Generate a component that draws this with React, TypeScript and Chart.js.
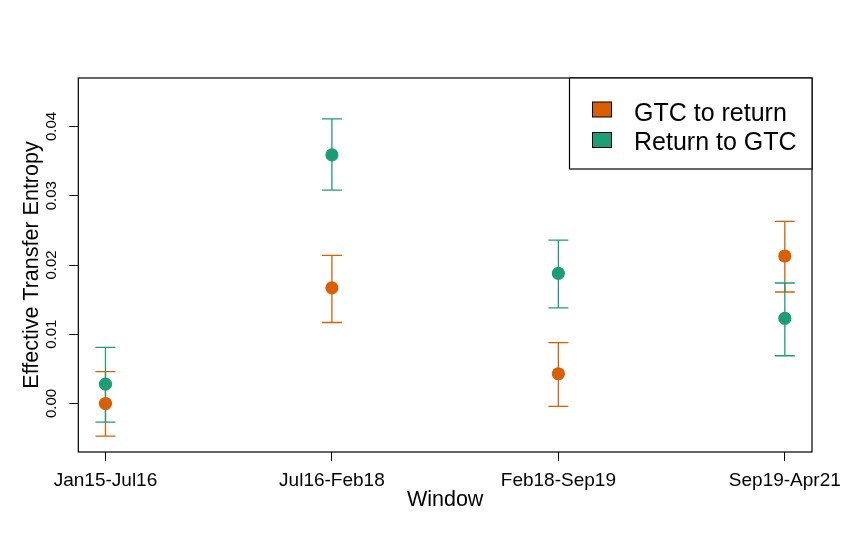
import { useEffect, useRef } from 'react';
import { Chart, registerables } from 'chart.js';
import type { ChartConfiguration, Plugin } from 'chart.js';

Chart.register(...registerables);

const windows = ['Jan15-Jul16', 'Jul16-Feb18', 'Feb18-Sep19', 'Sep19-Apr21'];

const gtcToReturn = [0.0, 0.0167, 0.0043, 0.0213];
const gtcToReturnLow = [-0.0047, 0.0117, -0.0004, 0.0161];
const gtcToReturnHigh = [0.0046, 0.0214, 0.0088, 0.0263];

const returnToGtc = [0.0028, 0.0359, 0.0188, 0.0123];
const returnToGtcLow = [-0.0027, 0.0308, 0.0138, 0.0069];
const returnToGtcHigh = [0.0081, 0.0411, 0.0236, 0.0174];

const yTicks = [0, 0.01, 0.02, 0.03, 0.04];
const yTickLabels = ['0.00', '0.01', '0.02', '0.03', '0.04'];

const ORANGE = '#D95F02';
const GREEN = '#1B9E77';
const FONT = '"Liberation Sans", Arial, sans-serif';

const errorBars = [
  { color: ORANGE, low: gtcToReturnLow, high: gtcToReturnHigh },
  { color: GREEN, low: returnToGtcLow, high: returnToGtcHigh },
];

const rPlot: Plugin<'scatter'> = {
  id: 'rPlot',
  beforeDatasetsDraw(chart) {
    const { ctx, scales } = chart;
    const x = scales.x;
    const y = scales.y;
    ctx.save();
    ctx.lineWidth = 1.3;
    errorBars.forEach((eb) => {
      ctx.strokeStyle = eb.color;
      windows.forEach((_, i) => {
        const px = x.getPixelForValue(i);
        const top = y.getPixelForValue(eb.high[i]);
        const bot = y.getPixelForValue(eb.low[i]);
        ctx.beginPath();
        ctx.moveTo(px, top);
        ctx.lineTo(px, bot);
        ctx.moveTo(px - 10, top);
        ctx.lineTo(px + 10, top);
        ctx.moveTo(px - 10, bot);
        ctx.lineTo(px + 10, bot);
        ctx.stroke();
      });
    });
    ctx.restore();
  },
  afterDraw(chart) {
    const { ctx, chartArea, scales } = chart;
    const y = scales.y;
    ctx.save();
    // plot box
    ctx.strokeStyle = '#000';
    ctx.lineWidth = 1.2;
    ctx.strokeRect(chartArea.left, chartArea.top, chartArea.right - chartArea.left, chartArea.bottom - chartArea.top);

    // y tick labels, rotated like R's default
    ctx.fillStyle = '#000';
    ctx.font = `15px ${FONT}`;
    ctx.textAlign = 'center';
    ctx.textBaseline = 'alphabetic';
    yTicks.forEach((v, i) => {
      const py = y.getPixelForValue(v);
      ctx.save();
      ctx.translate(56, py);
      ctx.rotate(-Math.PI / 2);
      ctx.fillText(yTickLabels[i], 0, 0);
      ctx.restore();
    });

    // axis titles
    ctx.font = `21.5px ${FONT}`;
    ctx.save();
    ctx.translate(37.5, (chartArea.top + chartArea.bottom) / 2);
    ctx.rotate(-Math.PI / 2);
    ctx.fillText('Effective Transfer Entropy', 0, 0);
    ctx.restore();
    ctx.fillText('Window', (chartArea.left + chartArea.right) / 2, 505.5);

    // legend
    const lx = 569.5;
    ctx.fillStyle = '#fff';
    ctx.fillRect(lx, chartArea.top, chartArea.right - lx, 91);
    ctx.strokeRect(lx, chartArea.top, chartArea.right - lx, 91);
    ctx.font = `25px ${FONT}`;
    ctx.textAlign = 'left';
    chart.data.datasets.forEach((ds, i) => {
      const sy = 102 + i * 30.5;
      ctx.fillStyle = ds.backgroundColor as string;
      ctx.fillRect(592.5, sy, 19, 15);
      ctx.lineWidth = 1;
      ctx.strokeRect(592.5, sy, 19, 15);
      ctx.fillStyle = '#000';
      ctx.fillText(ds.label as string, 634, sy + 18.5 - i * 1.5);
    });
    ctx.restore();
  },
};

function EntropyChart() {
  const chartRef = useRef<HTMLCanvasElement>(null);
  const chartInstance = useRef<Chart<'scatter'> | null>(null);

  useEffect(() => {
    if (!chartRef.current) return;
    const ctx = chartRef.current.getContext('2d');
    if (!ctx) return;

    const config: ChartConfiguration<'scatter'> = {
      type: 'scatter',
      data: {
        datasets: [
          {
            label: 'GTC to return',
            data: gtcToReturn.map((v, i) => ({ x: i, y: v })),
            backgroundColor: ORANGE,
            borderColor: ORANGE,
            pointRadius: 6,
            borderWidth: 1.2,
          },
          {
            label: 'Return to GTC',
            data: returnToGtc.map((v, i) => ({ x: i, y: v })),
            backgroundColor: GREEN,
            borderColor: GREEN,
            pointRadius: 6,
            borderWidth: 1.2,
          },
        ],
      },
      options: {
        animation: false,
        responsive: true,
        maintainAspectRatio: false,
        layout: { padding: { top: 78, right: 41, left: 0, bottom: 0 } },
        plugins: { legend: { display: false }, tooltip: { enabled: false } },
        scales: {
          x: {
            type: 'linear',
            min: -0.12,
            max: 3.12,
            afterBuildTicks: (scale) => {
              scale.ticks = windows.map((_, i) => ({ value: i }));
            },
            afterFit: (scale) => {
              scale.height = 98;
            },
            ticks: {
              color: '#000',
              padding: 8,
              font: { family: FONT, size: 19 },
              maxRotation: 0,
              autoSkip: false,
              callback: (v) => windows[Number(v)] ?? '',
            },
            grid: { drawOnChartArea: false, tickLength: 9, tickColor: '#000', tickWidth: 1 },
            border: { display: false },
          },
          y: {
            type: 'linear',
            min: -0.007,
            max: 0.047,
            afterBuildTicks: (scale) => {
              scale.ticks = yTicks.map((v) => ({ value: v }));
            },
            afterFit: (scale) => {
              scale.width = 78.3;
            },
            ticks: { display: false },
            grid: { drawOnChartArea: false, tickLength: 9, tickColor: '#000', tickWidth: 1 },
            border: { display: false },
          },
        },
      },
      plugins: [rPlot],
    };

    if (chartInstance.current) { chartInstance.current.destroy(); }
    chartInstance.current = new Chart(ctx, config);

    return () => { if (chartInstance.current) { chartInstance.current.destroy(); } };
  }, []);

  return (
    <div style={{ position: 'absolute', left: 0, top: 0, width: 853, height: 550, background: '#fff' }}>
      <canvas ref={chartRef}></canvas>
    </div>
  );
}

export default function App() {
  return <EntropyChart />;
}
